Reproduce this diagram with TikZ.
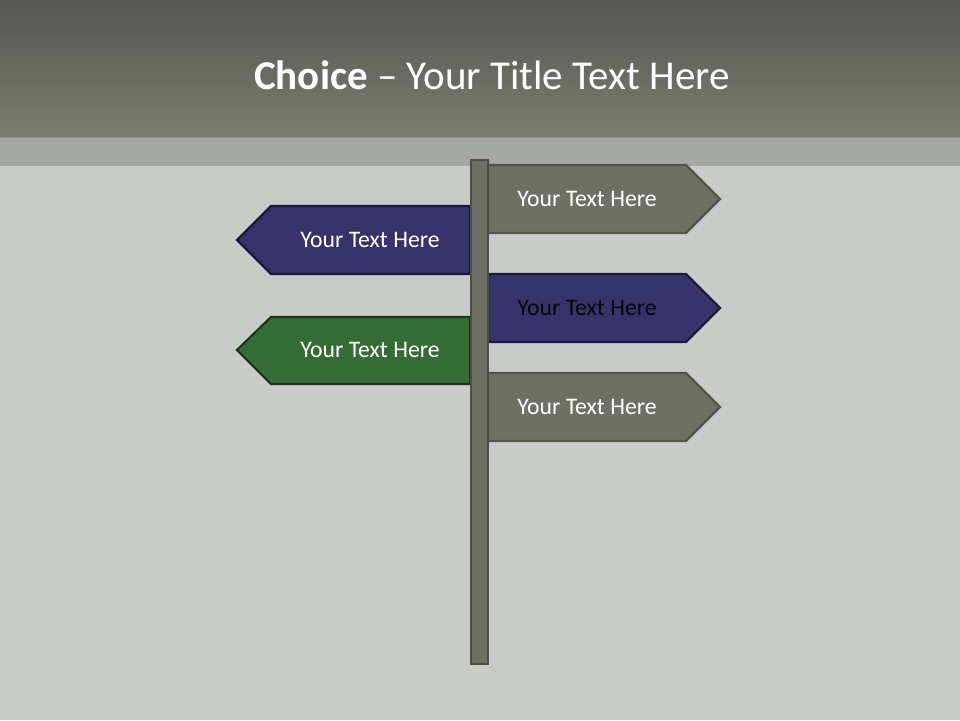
\documentclass[tikz,border=0pt]{standalone}
\usepackage{fontspec}
\setmainfont{Carlito}
\begin{document}
\begin{tikzpicture}[x=1pt,y=-1pt,
  graysign/.style={fill=signgray,draw=signgrayd,line width=2.2pt,line join=miter},
  navysign/.style={fill=signnavy,draw=signnavyd,line width=2.2pt,line join=miter},
  greensign/.style={fill=signgreen,draw=signgreend,line width=2.2pt,line join=miter},
  signtext/.style={text=white,font=\fontsize{23.7}{28}\selectfont,inner sep=0pt},
  poststyle/.style={fill=postfill,draw=postdraw,line width=2pt}]
\definecolor{bgtop}{HTML}{55574F}
\definecolor{bgbot}{HTML}{7B7D70}
\definecolor{strip}{HTML}{A6A8A2}
\definecolor{bgmain}{HTML}{C9CBC8}
\definecolor{signgray}{HTML}{6F7064}
\definecolor{signgrayd}{HTML}{53554B}
\definecolor{signnavy}{HTML}{35336A}
\definecolor{signnavyd}{HTML}{1C1B3E}
\definecolor{signgreen}{HTML}{356B35}
\definecolor{signgreend}{HTML}{1B361B}
\definecolor{postfill}{HTML}{6E6F64}
\definecolor{postdraw}{HTML}{4C4E46}
\useasboundingbox (0,0) rectangle (960,720);
% background
\fill[bgmain] (0,0) rectangle (960,720);
\shade[top color=bgtop,bottom color=bgbot] (0,0) rectangle (960,137);
\fill[strip] (0,137) rectangle (960,166);
\draw[color=bgbot!80!black,line width=0.6pt,opacity=0.3] (0,137) -- (960,137);
% title
\node[text=white,inner sep=0pt] (title) at (492,75) {\fontsize{41}{46}\selectfont\textbf{Choice} – Your Title Text Here};
% signs
\draw[graysign] (488,165) -- (686,165) -- (720,199) -- (686,233) -- (488,233) -- cycle;
\node[signtext] (t1) at (587,199) {Your Text Here};
\draw[navysign] (470,206) -- (271,206) -- (237,240) -- (271,274) -- (470,274) -- cycle;
\node[signtext] (t2) at (370,240) {Your Text Here};
\draw[navysign] (488,274) -- (686,274) -- (720,308) -- (686,342) -- (488,342) -- cycle;
\node[signtext,text=black!90!signnavy] (t3) at (587,308) {Your Text Here};
\draw[greensign] (470,317) -- (271,317) -- (237,350) -- (271,384) -- (470,384) -- cycle;
\node[signtext] (t4) at (370,350) {Your Text Here};
\draw[graysign] (488,373) -- (686,373) -- (720,407) -- (686,441) -- (488,441) -- cycle;
\node[signtext] (t5) at (587,407) {Your Text Here};
% post
\draw[poststyle] (471,160) rectangle (488,664);
\end{tikzpicture}
\end{document}
